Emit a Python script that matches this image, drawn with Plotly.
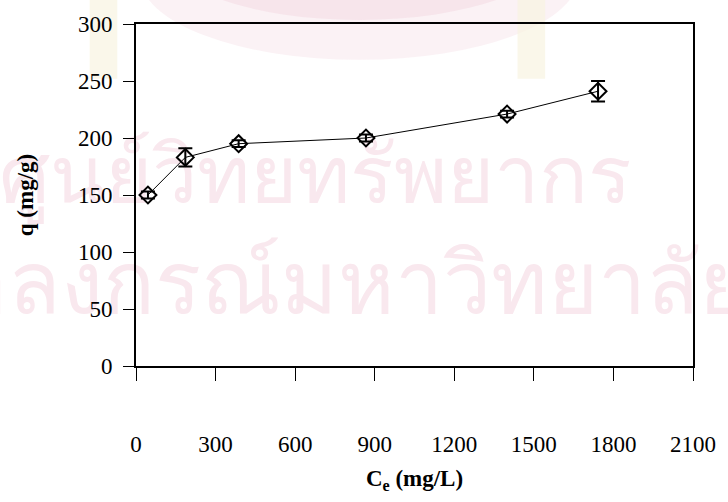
import plotly.graph_objects as go

# Equilibrium adsorption data
ce = [45, 186, 387, 867, 1399, 1742]          # C_e (mg/L)
q = [150, 183, 195, 200, 221, 241]            # q (mg/g)
q_err = [3, 8, 3, 3, 3, 9]                    # standard deviation

x_ticks = [0, 300, 600, 900, 1200, 1500, 1800, 2100]
y_ticks = [0, 50, 100, 150, 200, 250, 300]

watermark_line1 = "ศูนย์วิทยทรัพยากร"
watermark_line2 = "จุฬาลงกรณ์มหาวิทยาลัย"

serif = "Liberation Serif, Times New Roman, serif"
wm_color = "#f9e8ee"


def px_x(px):
    # pixel column -> paper x (plot area spans 136..701 px)
    return (px - 136) / 565


def px_y(py):
    # pixel row -> paper y (plot area spans 22..366 px)
    return (366 - py) / 344


fig = go.Figure()
fig.add_trace(go.Scatter(
    x=ce, y=q, mode="lines+markers",
    line=dict(color="black", width=1),
    marker=dict(symbol="diamond-open", size=13, color="black", line=dict(width=2, color="black")),
    error_y=dict(type="data", array=q_err, visible=True, color="black", thickness=2, width=7),
    showlegend=False,
))

shapes = [
    # faint emblem behind the chart
    dict(type="circle", xref="paper", yref="paper", x0=px_x(140), x1=px_x(585),
         y0=px_y(58), y1=px_y(-110),
         fillcolor="rgba(248,234,239,0.6)", line=dict(width=0), layer="below"),
    dict(type="circle", xref="paper", yref="paper", x0=px_x(160), x1=px_x(565),
         y0=px_y(18), y1=px_y(-130),
         fillcolor="rgba(240,200,212,0.3)", line=dict(width=0), layer="below"),
    dict(type="rect", xref="paper", yref="paper", x0=px_x(89), x1=px_x(117),
         y0=px_y(77), y1=px_y(-5),
         fillcolor="rgba(248,244,225,0.7)", line=dict(width=0), layer="below"),
    dict(type="rect", xref="paper", yref="paper", x0=px_x(523), x1=px_x(551),
         y0=px_y(77), y1=px_y(-5),
         fillcolor="rgba(248,244,225,0.7)", line=dict(width=0), layer="below"),
    # watermark text
    dict(type="rect", xref="paper", yref="paper", x0=px_x(-6), x1=px_x(-5),
         y0=px_y(172), y1=px_y(162),
         line=dict(width=0), fillcolor="rgba(0,0,0,0)", layer="below",
         label=dict(text=watermark_line1, font=dict(size=81, color=wm_color),
                    textposition="middle left", padding=0)),
    dict(type="rect", xref="paper", yref="paper", x0=px_x(760), x1=px_x(761),
         y0=px_y(281), y1=px_y(271),
         line=dict(width=0), fillcolor="rgba(0,0,0,0)", layer="below",
         label=dict(text=watermark_line2, font=dict(size=86, color=wm_color),
                    textposition="middle right", padding=0)),
]

fig.update_layout(
    width=728, height=502,
    margin=dict(l=136, r=27, t=22, b=136),
    paper_bgcolor="white", plot_bgcolor="rgba(0,0,0,0)",
    font=dict(family=serif, size=23, color="black"),
    shapes=shapes,
    xaxis=dict(
        range=[0, 2100], tickvals=x_ticks, ticktext=[str(v) for v in x_ticks],
        showgrid=False, zeroline=False, showline=True, mirror=True,
        linecolor="black", linewidth=1.5, ticks="outside", ticklen=13, tickwidth=1,
        tickcolor="black", ticklabelstandoff=44,
        title=dict(text="<b>C<sub>e</sub> (mg/L)</b>", font=dict(size=23), standoff=14),
    ),
    yaxis=dict(
        range=[0, 300], tickvals=y_ticks,
        showgrid=False, zeroline=False, showline=True, mirror=True,
        linecolor="black", linewidth=2, ticks="outside", ticklen=11, tickwidth=1,
        tickcolor="black", ticklabelstandoff=6,
        title=dict(text="<b>q (mg/g)</b>", font=dict(size=23), standoff=38),
    ),
)

fig.write_html("out.html")
